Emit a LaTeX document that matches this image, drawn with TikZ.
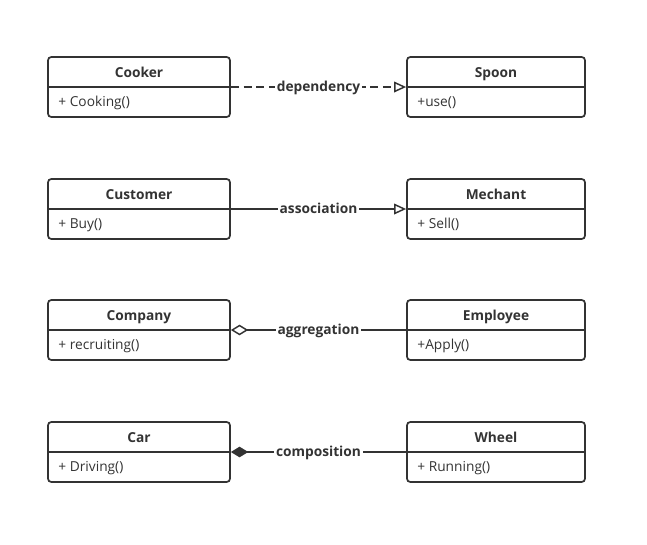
\documentclass[tikz,border=0pt]{standalone}
\usepackage{fontspec}
\setmainfont{Open Sans}
\usetikzlibrary{arrows.meta}
\definecolor{ink}{HTML}{333333}
\newcommand{\umlclass}[5][]{%
  \node[classbox,#1] (#2) at (#3) {};
  \draw[classline] (#2.west) -- (#2.east);
  \node[classname] (#2-name) at ([yshift=7pt]#2.center) {#4};
  \node[method] (#2-op) at ([xshift=8.25pt,yshift=-14.5pt]#2.west) {#5};
}

\begin{document}
\begin{tikzpicture}[x=0.75pt,y=-0.75pt,
  classbox/.style={draw=ink,line width=1.3pt,rounded corners=2.5pt,
    minimum width=136.5pt,minimum height=45pt,inner sep=0pt},
  narrow/.style={minimum width=133.5pt},
  classline/.style={draw=ink,line width=1.3pt},
  classname/.style={anchor=base,font=\fontsize{10.3}{12}\selectfont\bfseries,text=ink,inner sep=0pt},
  method/.style={anchor=base west,font=\fontsize{10.3}{12}\selectfont,text=ink,inner sep=0pt},
  rel/.style={draw=ink,line width=1.1pt},
  relname/.style={anchor=base,yshift=-3.4pt,fill=white,font=\fontsize{10.3}{12}\selectfont\bfseries,text=ink,inner sep=1.5pt},
  hollow/.style={-{Triangle[open,length=9pt,width=8pt,line width=1.1pt]}},
  ]
   \useasboundingbox (0,0) rectangle (647,544);
   % classes
   \umlclass{cooker}{139,87}{Cooker}{+ Cooking()}
   \umlclass[narrow]{spoon}{496,87}{Spoon}{+use()}
   \umlclass{customer}{139,209}{Customer}{+ Buy()}
   \umlclass[narrow]{mechant}{496,209}{Mechant}{+ Sell()}
   \umlclass{company}{139,330}{Company}{+ recruiting()}
   \umlclass[narrow]{employee}{496,330}{Employee}{+Apply()}
   \umlclass{car}{139,452}{Car}{+ Driving()}
   \umlclass[narrow]{wheel}{496,452}{Wheel}{+ Running()}
   % relations
   \draw[rel,hollow,dash pattern=on 6pt off 3.5pt] (cooker.east) -- node[relname] {dependency} (spoon.west);
   \draw[rel,hollow] (customer.east) -- node[relname] {association} (mechant.west);
   \draw[rel,{Diamond[open,length=13pt,width=8pt,line width=1.1pt]}-] (company.east) -- node[relname] {aggregation} (employee.west);
   \draw[rel,{Diamond[length=13pt,width=8pt]}-] (car.east) -- node[relname] {composition} (wheel.west);
\end{tikzpicture}
\end{document}
